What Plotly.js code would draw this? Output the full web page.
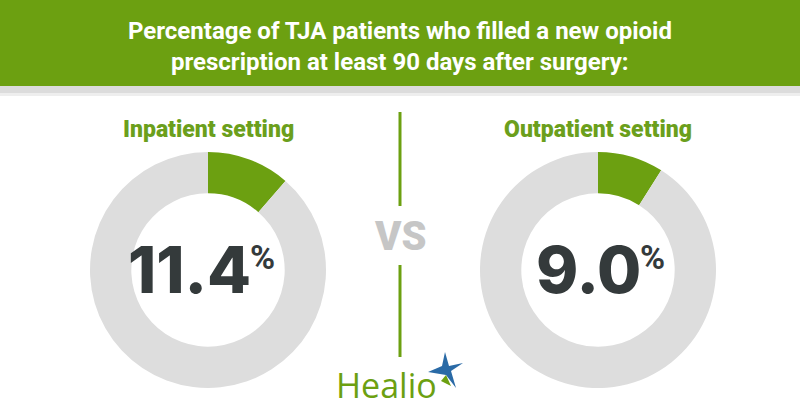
<!DOCTYPE html>
<html>
<head>
<meta charset="utf-8">
<script src="https://cdn.plot.ly/plotly-3.0.1.min.js"></script>
<style>
	html, body { margin: 0; padding: 0; background: #ffffff; }
	#chart { width: 800px; height: 420px; }
</style>
</head>
<body>
<div id="chart"></div>
<script>
// Data
var settings	= [ "Inpatient setting", "Outpatient setting" ];
var pctFilled	= [ 11.4, 9.0 ];
var pctLabels	= [ "11.4", "9.0" ];
var sliceNames	= [ "Filled new opioid prescription", "Did not" ];

// Colours
var green		= "#6ca011",
	labelGreen	= "#6b9f1c",
	ringGrey	= "#dddddd",
	numberGrey	= "#343a3b",
	vsGrey		= "#c6c6c6",
	starBlue	= "#2a6aa6";

var W = 800, H = 420;

// pixel -> paper helpers
function px( x ) { return x / W; }
function py( y ) { return 1 - y / H; }

// Donut centres and radius, in pixels
var centersX = [ 208, 598 ],
	centerY  = 270,
	radius   = 118;

var data = [];
for( let i = 0; i < settings.length; i++ )
{
	data.push( {
		type: "pie",
		labels: sliceNames,
		values: [ pctFilled[ i ], 100 - pctFilled[ i ] ],
		sort: false,
		direction: "clockwise",
		rotation: 0,
		hole: 0.65,
		textinfo: "none",
		hoverinfo: "none",
		showlegend: false,
		marker: { colors: [ green, ringGrey ], line: { width: 0 } },
		domain: {
			x: [ px( centersX[ i ] - radius ), px( centersX[ i ] + radius ) ],
			y: [ py( centerY + radius ), py( centerY - radius ) ]
		}
	} );
}

var shapes = [
	// green header band
	{ type: "rect", xref: "paper", yref: "paper", x0: 0, x1: 1, y0: py( 86 ), y1: 1,
	  fillcolor: green, line: { width: 0 }, layer: "below" },
	// grey strip below header
	{ type: "rect", xref: "paper", yref: "paper", x0: 0, x1: 1, y0: py( 93 ), y1: py( 86 ),
	  fillcolor: "#dcdcdc", line: { width: 0 }, layer: "below" },
	{ type: "rect", xref: "paper", yref: "paper", x0: 0, x1: 1, y0: py( 96 ), y1: py( 93 ),
	  fillcolor: "#eeeeee", line: { width: 0 }, layer: "below" },
	// divider lines
	{ type: "line", xref: "paper", yref: "paper", x0: px( 400 ), x1: px( 400 ), y0: py( 112 ), y1: py( 206 ),
	  line: { color: green, width: 3 } },
	{ type: "line", xref: "paper", yref: "paper", x0: px( 400 ), x1: px( 400 ), y0: py( 265 ), y1: py( 357 ),
	  line: { color: green, width: 3 } },
	// Healio star (logo)
	{ type: "path", xref: "paper", yref: "paper", fillcolor: starBlue, line: { width: 0 },
	  path: "M " + px( 445 ) + " " + py( 352 ) +
			" L " + px( 449 ) + " " + py( 366 ) +
			" L " + px( 463 ) + " " + py( 363 ) +
			" L " + px( 451 ) + " " + py( 371 ) +
			" L " + px( 456 ) + " " + py( 388 ) +
			" L " + px( 446 ) + " " + py( 375 ) +
			" L " + px( 428 ) + " " + py( 372 ) +
			" L " + px( 442 ) + " " + py( 366 ) + " Z" },
	{ type: "path", xref: "paper", yref: "paper", fillcolor: green, line: { width: 0 },
	  path: "M " + px( 446 ) + " " + py( 375 ) +
			" L " + px( 451 ) + " " + py( 386 ) +
			" L " + px( 441 ) + " " + py( 381 ) + " Z" }
];

var titleFont = "Roboto, sans-serif";

var annotations = [
	{ text: "Percentage of TJA patients who filled a new opioid", x: 0.5, y: py( 31 ),
	  font: { family: titleFont, size: 24, color: "#ffffff", weight: 700 } },
	{ text: "prescription at least 90 days after surgery:", x: 0.5, y: py( 62 ),
	  font: { family: titleFont, size: 24, color: "#ffffff", weight: 700 } },
	{ text: "VS", x: px( 400 ), y: py( 236 ),
	  font: { family: "Roboto, sans-serif", size: 40, color: vsGrey, weight: 900 } },
	{ text: "Healio", x: px( 386 ), y: py( 385 ),
	  font: { family: "'Open Sans', 'Liberation Sans', sans-serif", size: 34, color: green, weight: 400 } }
];

for( let i = 0; i < settings.length; i++ )
{
	annotations.push( { text: settings[ i ], x: px( centersX[ i ] ), y: py( 129 ),
		font: { family: "Roboto, sans-serif", size: 23, color: labelGreen, weight: 900 } } );
	annotations.push( { text: pctLabels[ i ], x: px( centersX[ i ] + 45 ), y: py( 269 ), xanchor: "right",
		font: { family: "Inter, Roboto, sans-serif", size: 64, color: numberGrey, weight: 800 } } );
	annotations.push( { text: "%", x: px( centersX[ i ] + 40 ), y: py( 257 ), xanchor: "left",
		font: { family: "Roboto, sans-serif", size: 34, color: numberGrey, weight: 700 } } );
}

annotations.forEach( a => {
	a.xref = "paper"; a.yref = "paper"; a.showarrow = false;
	if( !a.xanchor ) a.xanchor = "center";
	a.yanchor = "middle";
} );

var layout = {
	width: W,
	height: H,
	margin: { l: 0, r: 0, t: 0, b: 0 },
	paper_bgcolor: "#ffffff",
	plot_bgcolor: "#ffffff",
	showlegend: false,
	shapes: shapes,
	annotations: annotations
};

Plotly.newPlot( "chart", data, layout, { staticPlot: true } );
</script>
</body>
</html>
